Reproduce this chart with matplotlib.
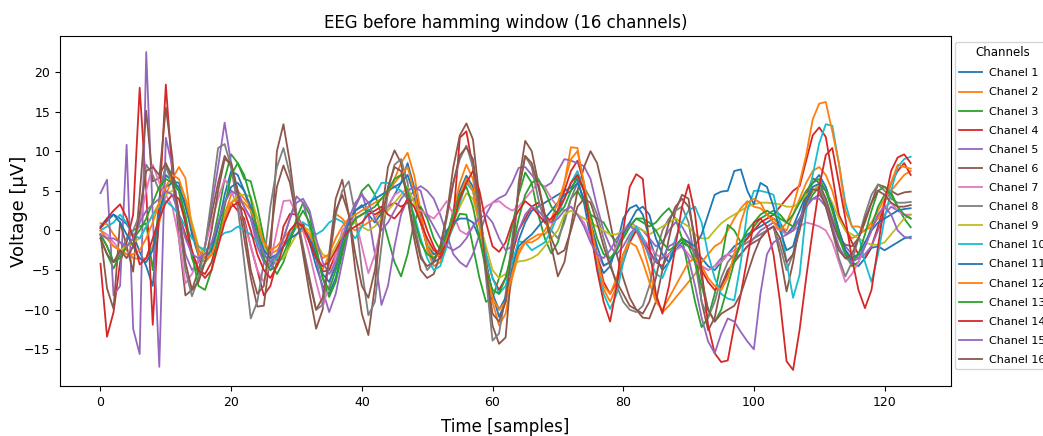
import numpy as np
import matplotlib
matplotlib.use('Agg')
import matplotlib.pyplot as plt

# EEG samples per channel (uV), 125 samples each
ch1 = [0.3, 1.2, 2.0, 1.5, 0.8, -0.5, -2.7, -4.5, -7.0, 1.5, 7.0, 6.2, 6.0, 3.5, -0.5, -3.2, -4.0, -3.0, 0.5, 4.5, 7.5, 7.0, 5.0, 2.5, -1.0,
       -3.8, -4.5, -3.2, -2.0, -1.0, 0.5, 1.0, -1.5, -4.5, -7.0, -8.0, -6.0, -2.5, 0.5, 2.5, 3.2, 2.0, 1.0, 2.2, 3.0, 4.5, 6.0, 8.5, 5.5, 2.0,
       -2.0, -4.0, -3.5, -1.0, 2.5, 5.0, 6.9, 5.5, 1.0, -4.0, -8.0, -10.9, -9.0, -5.0, -1.2, 1.0, 2.5, 3.0, 3.5, 4.0, 4.5, 5.0, 5.4, 6.5, 3.5,
       -1.0, -3.5, -5.4, -4.5, -2.0, 1.5, 2.8, 3.2, 2.0, -1.0, -3.5, -5.0, -4.0, -2.5, -1.5, -2.0, -2.5, -3.5, -4.5, -5.0, -4.0, -3.0, -2.0, -1.5, -0.5,
       0.0, 0.5, 1.0, 1.5, 1.0, -0.5, 0.5, 2.5, 4.5, 6.0, 7.0, 5.5, 3.0, 0.0, -2.5, -4.0, -4.5, -3.5, -2.2, -2.0, -2.5, -2.0, -1.5, -1.0, -0.8]
ch2 = [0.9, 0.8, -0.5, -1.5, -2.5, -3.5, -3.6, -3.5, -2.0, 1.0, 4.5, 6.5, 8.0, 6.6, 0.3, -3.0, -4.0, -3.0, -1.0, 2.0, 4.5, 5.0, 4.0, 3.0, 1.5,
       -1.5, -3.0, -2.5, -1.5, -1.0, -0.5, 0.0, -1.0, -3.0, -5.0, -3.0, 2.1, 1.5, 0.5, 0.0, 0.5, 1.0, 1.5, 2.5, 4.5, 6.5, 8.5, 9.8, 7.0, 2.5,
       -2.5, -4.5, -4.0, -1.5, 2.5, 6.0, 8.3, 6.5, 1.5, -4.0, -9.0, -12.0, -10.5, -6.0, -3.0, -1.5, -1.0, -0.5, -0.5, 0.5, 2.5, 6.0, 10.5, 10.4, 5.5,
       0.0, -4.5, -7.4, -9.0, -7.0, -3.0, -1.0, 0.0, -2.0, -5.0, -8.5, -10.3, -9.5, -8.5, -7.5, -6.5, -5.5, -4.0, -3.0, -2.0, -1.5, 0.0, 1.5, 2.8, 3.7,
       3.0, 2.8, 2.0, 1.5, 0.5, 0.0, 2.0, 4.0, 6.0, 7.5, 8.0, 7.0, 5.0, 2.0, 0.0, -1.0, -0.5, 0.0, 1.0, 2.5, 4.0, 5.0, 6.0, 7.0, 7.5]
ch3 = [-1.0, -3.0, -4.8, -3.0, -1.0, 0.0, 0.5, 0.9, -5.0, 4.0, 8.3, 7.0, 5.0, 1.0, -3.5, -5.5, -4.0, -2.0, 2.0, 6.5, 9.6, 8.5, 6.5, 6.2, 3.0,
       -1.0, -4.0, -5.5, -4.0, -1.5, 1.5, 3.5, 2.0, -2.0, -6.0, -8.4, -6.5, -3.0, 0.5, 3.0, 5.0, 5.8, 4.5, 2.0, -1.0, -4.0, -5.8, -3.0, 1.0, 3.0,
       1.5, -1.0, -2.5, -1.5, 0.5, 2.1, 2.0, -2.0, -6.0, -9.0, -8.5, -6.0, -3.0, 0.5, 4.5, 7.3, 6.0, 2.0, -1.0, -2.9, -1.5, 1.5, 4.0, 5.0, 3.5,
       2.0, 1.5, 1.0, -0.5, -1.5, -1.0, 0.5, 1.5, 1.0, 0.5, 1.0, 2.0, 2.8, 1.5, -1.0, -5.0, -9.0, -12.2, -11.0, -8.0, -4.0, 0.7, 0.0, -1.5, -1.0,
       0.5, 1.5, 2.0, 2.5, 2.0, 1.0, 0.5, 1.5, 3.0, 4.5, 5.5, 4.0, 1.5, -1.0, -3.0, -4.5, -4.0, -2.0, 0.5, 3.0, 4.5, 4.8, 3.0, 1.5, 0.4]
ch4 = [-4.2, -13.4, -10.3, -4.0, -1.5, 2.0, 18.0, 5.0, -11.9, 3.0, 18.4, 7.0, 2.0, -0.5, -3.0, -5.0, -5.5, -4.0, -1.0, 2.0, 3.5, 2.5, 1.5, -2.0, -5.0,
       -8.2, -7.0, -4.0, 0.5, 2.1, 2.0, 0.5, -1.5, -3.5, -5.2, -5.0, -3.0, -1.0, 0.5, 1.5, 2.0, 2.5, 2.0, 2.5, 3.0, 3.5, 3.0, 3.5, 4.0, 2.5,
       0.0, -2.0, -3.5, -2.0, 1.5, 11.7, 12.5, 7.9, 2.0, -3.0, -6.0, -7.5, -6.0, -3.0, 0.0, 1.5, 3.0, 3.5, 2.0, 1.0, 2.5, 5.0, 7.5, 8.8, 6.0,
       1.0, -3.0, -6.5, -8.0, -6.5, -4.0, -1.5, 0.0, -1.0, -2.5, -4.0, -4.5, -3.0, -2.0, -1.0, -1.5, -3.0, -5.0, -6.5, -7.5, -7.0, -5.5, -3.5, -2.0, -1.0,
       0.0, 1.0, 1.5, 2.0, 3.0, 4.0, 5.0, 5.6, 8.8, 12.0, 13.0, 11.8, 7.0, 2.0, 0.3, -1.5, -3.0, -3.5, -2.0, 0.5, 3.5, 6.0, 7.5, 8.5, 7.0]
ch5 = [4.7, 6.4, -8.2, -7.0, 10.8, -12.4, -15.6, 22.5, 2.0, -17.2, 11.7, 8.0, 2.0, -3.0, -5.0, -4.0, -2.0, 3.0, 8.0, 13.6, 8.5, 5.0, 3.0, 1.5, -2.0,
       -4.0, -5.0, -3.5, -1.0, 1.5, 4.3, 3.5, 0.5, -3.5, -7.5, -10.3, -8.0, -4.0, 0.0, 3.0, 4.7, 2.0, -3.0, -9.4, -7.0, -2.0, 2.0, 4.0, 5.0, 5.6,
       5.0, 4.0, 2.0, -0.5, -3.0, -4.0, -4.6, -3.0, -0.5, 2.0, 3.5, 4.1, 4.5, 6.0, 7.9, 8.0, 7.0, 6.0, 5.5, 6.0, 7.5, 9.0, 8.8, 8.5, 8.1,
       6.5, 3.0, 0.0, -2.0, -3.0, -2.0, -0.5, 0.5, 0.0, -1.0, -2.0, -1.5, 0.0, 1.0, 0.5, -1.0, -3.0, -4.5, -5.0, -4.5, -3.5, -3.0, -3.5, -3.0, -2.0,
       -1.0, 0.0, 0.5, 1.0, 0.5, -0.5, 0.0, 1.5, 3.0, 4.0, 4.5, 3.5, 1.5, -0.5, -2.0, -3.0, -3.5, -3.0, -2.0, 0.0, 2.0, 3.0, 2.5, 2.0, 1.5]
ch6 = [-0.5, -7.3, -9.9, 1.1, -2.0, -5.2, 4.5, 15.1, 6.2, 6.6, 15.5, 9.2, -1.0, -8.2, -7.5, -5.0, -2.0, 2.0, 6.0, 9.4, 8.0, 4.0, -1.0, -6.0, -9.6,
       -9.5, -3.0, 10.0, 13.4, 8.5, 2.0, -3.0, -8.0, -12.4, -10.0, -3.0, 4.0, 6.4, 2.0, -5.0, -10.5, -13.2, -7.0, 2.0, 8.0, 10.1, 8.5, 4.0, -1.0, -5.0,
       -6.0, -5.5, -3.0, 2.0, 8.0, 12.0, 13.5, 11.5, 4.0, -5.0, -12.0, -14.3, -13.5, -4.0, 6.0, 11.3, 10.0, 6.0, 2.0, -2.0, -5.8, -4.0, 0.5, 5.0, 8.0,
       10.0, 8.5, 5.0, 1.0, -3.0, -6.0, -8.5, -10.0, -11.0, -11.1, -9.0, -5.0, -1.0, 2.5, 4.5, 4.0, -2.0, -9.0, -12.6, -11.0, -7.0, -5.0, -4.0, -3.0, -2.0,
       -1.5, -1.0, 0.0, 0.5, -3.0, -7.7, -4.0, 1.0, 4.5, 6.6, 6.0, 4.0, 1.0, -1.0, -1.8, -2.0, -1.0, 1.0, 3.5, 5.8, 5.5, 5.0, 4.5, 4.8, 4.9]
ch7 = [0.0, -0.5, -1.5, -2.5, -3.0, -2.0, 1.0, 5.0, 8.3, 6.0, 4.5, 3.0, -1.0, -6.7, -5.5, -3.5, -2.0, 1.0, 4.0, 6.5, 5.0, 3.0, 1.0, -2.0, -5.0,
       -6.5, -4.0, 0.0, 3.7, 3.8, 2.0, 0.0, -3.0, -6.5, -9.6, -7.0, -3.0, 0.0, 1.0, 1.5, -2.0, -5.4, -3.0, 0.5, 3.0, 4.5, 5.0, 4.0, 3.0, 2.5,
       2.0, 1.5, 2.5, 3.7, 2.0, 0.0, -0.5, 0.5, 2.0, 3.0, 3.5, 3.7, 3.0, 2.5, 3.0, 4.0, 5.0, 6.0, 5.5, 4.0, 3.0, 2.5, 3.0, 2.0, 1.0,
       -1.0, -3.0, -4.5, -4.0, -2.0, 0.0, 1.0, 0.5, -1.0, -2.0, -3.0, -3.5, -3.0, -2.5, -2.0, -3.0, -4.0, -4.5, -5.0, -4.5, -4.0, -3.0, -2.5, -2.0, -1.5,
       -1.0, -0.5, 0.0, 0.5, 0.0, -0.5, 0.0, 0.5, 1.0, 0.8, 0.5, 0.0, -1.5, -4.0, -6.5, -5.5, -4.0, -2.0, 0.0, 2.0, 3.0, 3.5, 2.5, 2.0, 2.0]
ch8 = [-0.5, -2.0, -4.0, -3.0, -1.0, 0.0, 2.0, 8.3, 7.0, 5.0, 8.0, 6.0, 1.0, -5.0, -8.3, -6.0, -2.0, 4.0, 10.4, 10.9, 8.0, 3.0, -4.0, -11.1, -9.0,
       -4.0, 3.0, 8.0, 10.4, 7.0, 2.0, -2.0, -6.0, -10.0, -9.4, -4.0, 2.0, 5.0, 6.2, 2.0, -5.0, -10.7, -9.0, -2.0, 5.0, 8.3, 9.0, 6.0, 1.0, -3.0,
       -5.0, -4.0, -2.0, 1.5, 6.0, 9.0, 10.7, 8.0, 2.0, -6.0, -13.9, -13.0, -8.0, -1.0, 5.0, 9.4, 8.0, 4.0, 1.0, 0.0, -1.0, 1.0, 4.0, 6.0, 5.5,
       4.0, 2.0, -1.0, -4.0, -7.0, -9.0, -10.0, -10.3, -9.5, -7.0, -3.0, 0.0, 1.5, 2.5, 3.0, 1.0, -4.0, -9.0, -11.0, -9.0, -6.0, -4.0, -3.0, -2.0, -1.5,
       -1.0, -0.5, 0.0, 0.5, -2.0, -5.0, -3.0, 1.0, 3.5, 5.0, 5.5, 3.5, 0.0, -3.5, -5.8, -4.0, -1.0, 2.0, 4.5, 5.8, 5.0, 4.0, 3.5, 3.5, 3.6]
ch9 = [-0.5, -1.0, -2.0, -2.5, -2.0, -1.5, -1.0, 0.5, 2.0, 3.5, 4.5, 5.0, 5.5, 4.0, 1.0, -2.0, -3.0, -2.5, -0.5, 2.0, 3.5, 4.5, 4.5, 4.3, 1.5,
       -2.0, -3.5, -4.0, -3.5, -2.0, -0.5, 0.5, 0.0, -1.5, -3.0, -3.5, -2.0, -0.5, 0.5, 1.0, 0.5, 0.0, 0.5, 1.5, 2.5, 3.5, 4.5, 5.5, 3.5, 1.0,
       -1.5, -3.0, -3.0, -1.5, 1.0, 3.0, 4.7, 4.0, 1.0, -2.0, -5.0, -6.0, -5.5, -4.5, -3.9, -3.8, -3.5, -3.0, -2.0, -1.0, 0.0, 2.0, 2.5, 2.0, 1.5,
       1.0, 0.5, 0.0, -0.5, -0.5, 0.0, 0.5, 0.5, 0.0, -0.5, 0.0, 0.5, 1.0, 1.5, 1.0, 0.5, -0.5, -1.0, -1.0, 0.0, 0.9, 1.5, 2.0, 2.5, 3.0,
       3.3, 3.5, 3.5, 3.4, 3.3, 3.0, 3.0, 3.5, 4.5, 5.0, 5.8, 5.0, 3.5, 1.5, 0.0, -0.5, -1.0, -1.5, -1.8, -1.8, -1.5, -0.5, 0.5, 1.5, 2.0]
ch10 = [0.0, 0.5, 1.0, 2.0, 1.0, -0.5, -1.0, 0.5, 2.0, 3.0, 3.7, 3.0, 2.0, 0.5, -1.0, -2.0, -2.5, -2.0, -1.0, -0.3, -0.1, 0.5, 0.0, -0.5, -1.5,
        -3.0, -4.0, -3.5, -2.0, -0.5, 0.5, 1.0, 0.5, -0.5, 0.0, 1.0, 1.5, 1.1, 0.0, -1.0, 0.5, 3.0, 4.5, 6.0, 6.0, 5.5, 5.0, 4.0, 2.0, -1.0,
        -3.5, -5.0, -4.5, -2.0, 1.0, 3.5, 6.0, 5.0, 1.0, -3.0, -6.0, -8.0, -7.0, -4.0, -1.4, -1.5, -2.5, -2.0, -1.5, 0.0, 2.0, 4.0, 6.0, 7.5, 5.0,
        0.0, -4.5, -8.0, -9.9, -8.0, -4.0, -1.0, 0.5, -1.0, -3.5, -5.5, -6.0, -4.0, -1.0, 1.0, 2.5, 3.0, 1.0, -3.0, -6.0, -8.0, -8.6, -8.8, -4.0, 2.5,
        5.0, 5.0, 4.8, 4.5, 1.0, -4.0, -8.5, -5.6, 2.5, 7.0, 11.0, 13.4, 13.2, 8.5, 3.5, 0.5, -0.5, -4.0, -6.5, -3.0, 1.5, 5.0, 8.0, 9.0, 9.3]
ch11 = [0.5, 1.5, 2.0, 1.0, -0.5, -2.0, -3.5, -4.0, -2.5, 2.0, 5.5, 6.0, 5.5, 3.0, 0.0, -2.5, -3.5, -2.5, 0.5, 3.5, 5.5, 6.0, 5.0, 3.0, 0.0,
        -2.5, -3.5, -3.0, -2.0, -1.0, -0.5, 0.5, -1.0, -3.0, -5.5, -6.5, -4.5, -1.5, 1.0, 2.5, 3.0, 3.5, 4.0, 4.5, 5.0, 5.5, 6.0, 7.0, 4.5, 1.0,
        -2.0, -3.0, -2.5, 0.0, 1.0, 1.5, 1.5, 1.0, -1.0, -4.0, -8.0, -10.0, -8.5, -5.0, -2.0, -1.2, -0.5, 0.5, 1.5, 2.5, 3.5, 4.5, 5.0, 6.0, 4.0,
        1.0, -2.0, -4.4, -4.0, -2.5, -0.5, 1.0, 2.5, 3.0, 2.0, -1.0, -3.0, -4.0, -2.0, -1.0, -1.5, -2.0, -0.5, 2.0, 4.5, 4.9, 5.0, 7.5, 7.7, 5.0,
        3.3, 6.0, 5.5, 3.0, 0.0, -2.5, -2.0, 1.0, 4.0, 5.5, 5.9, 5.0, 3.0, 0.0, -2.5, -3.5, -3.0, -1.5, 0.0, 1.0, 1.5, 2.0, 2.5, 2.7, 2.8]
ch12 = [0.0, -1.0, -2.0, -2.5, -3.0, -3.0, -2.5, -1.0, 1.0, 3.5, 5.5, 7.0, 6.5, 4.0, 0.5, -2.5, -3.5, -3.0, -1.0, 1.5, 3.5, 4.0, 3.5, 2.5, 0.5,
        -1.5, -2.5, -2.0, -1.0, 0.0, 0.5, 0.5, -0.5, -2.0, -3.5, -3.0, -1.0, 0.5, 1.5, 2.0, 2.5, 3.0, 3.5, 4.0, 5.0, 6.0, 7.0, 8.0, 5.0, 1.0,
        -2.0, -3.5, -3.0, -1.0, 2.0, 4.5, 6.5, 5.0, 0.5, -4.5, -8.5, -10.0, -9.0, -5.5, -2.5, -1.5, -1.5, -1.0, 0.0, 1.5, 3.5, 6.0, 9.0, 10.0, 6.0,
        1.0, -3.5, -7.0, -8.0, -6.0, -3.0, -1.5, -2.0, -4.0, -6.5, -9.0, -10.0, -8.5, -7.0, -5.5, -4.0, -3.5, -4.5, -6.0, -7.0, -7.5, -6.0, -3.0, 1.0, 3.5,
        4.0, 3.5, 2.0, 1.0, 0.0, 1.0, 3.0, 6.0, 9.5, 14.0, 16.0, 16.2, 12.5, 8.5, 2.5, 0.5, 0.5, 0.0, 0.5, 1.5, 3.5, 6.0, 8.3, 8.0, 7.8]
ch13 = [-0.5, -2.0, -4.0, -3.5, -2.0, -1.0, 0.0, 1.5, 3.5, 5.5, 6.5, 6.0, 5.0, 2.0, -3.0, -7.0, -7.5, -5.0, -1.0, 3.0, 7.0, 8.5, 7.0, 4.0, 0.0,
        -3.5, -5.0, -4.5, -3.0, -1.0, 1.0, 2.5, 1.0, -2.5, -6.0, -7.5, -5.0, -2.0, 0.0, 1.5, 2.0, 2.5, 3.0, 4.0, 5.0, 6.5, 7.0, 5.0, 1.5, -1.5,
        -3.0, -3.5, -2.5, -0.5, 2.0, 4.5, 5.5, 3.0, -1.0, -5.0, -7.5, -8.0, -6.0, -2.5, 1.5, 4.5, 6.0, 6.5, 5.0, 3.0, 2.0, 3.0, 5.0, 7.0, 5.0,
        2.0, -1.0, -3.0, -3.5, -2.5, -1.0, 0.5, 1.5, 1.5, 1.0, 0.0, -1.5, -2.5, -2.0, -1.0, -2.0, -4.0, -7.0, -10.0, -11.5, -10.0, -7.0, -4.0, -1.5, 0.0,
        1.0, 2.0, 2.5, 2.0, 1.5, 1.0, 2.0, 3.5, 5.0, 6.0, 6.5, 5.0, 2.5, -0.5, -3.0, -4.0, -3.0, -0.5, 2.5, 5.0, 5.5, 4.5, 3.0, 2.0, 1.5]
ch14 = [0.3, 1.5, 2.5, 3.3, 1.6, -1.0, -4.3, -3.5, -1.0, 1.5, 3.5, 4.5, 4.0, 1.0, -2.5, -5.0, -6.0, -5.0, -2.0, 1.0, 3.0, 3.5, 2.5, 0.0, -3.0,
        -5.0, -6.0, -4.5, -2.0, 0.0, 1.0, 0.5, -1.5, -3.5, -4.5, -4.0, -2.5, -1.0, 0.0, 0.5, 1.0, 2.0, 2.5, 3.0, 2.0, 1.5, 2.5, 4.0, 3.0, 1.0,
        -1.0, -2.5, -3.0, -1.5, 1.0, 4.0, 6.0, 7.5, 5.0, 1.0, -2.0, -2.7, -1.5, 1.0, 2.5, 3.7, 3.0, 2.0, 1.0, 1.5, 2.5, 4.0, 6.0, 7.0, 5.0,
        0.0, -5.0, -9.0, -11.5, -7.0, 0.0, 5.5, 7.1, 6.5, -2.0, -8.0, -10.5, -7.0, -2.0, 3.0, 5.8, 2.0, -5.0, -12.0, -15.5, -16.6, -16.4, -12.0, -8.0, -3.5,
        1.0, 1.5, 0.5, -3.0, -9.0, -16.5, -17.6, -12.5, -6.0, 0.0, 5.5, 9.5, 10.4, 6.0, 1.5, -3.5, -7.5, -9.8, -7.5, -2.0, 3.5, 7.5, 9.2, 9.6, 8.5]
ch15 = [-0.5, -1.0, -1.0, -1.5, -2.0, -1.0, 1.0, 2.5, 3.3, 4.0, 5.0, 4.5, 2.0, -1.0, -3.0, -3.5, -3.0, -1.5, 1.0, 3.5, 5.0, 4.5, 3.0, 1.5, -1.0,
        -3.0, -4.0, -3.0, -1.0, 1.5, 3.5, 4.0, 2.5, -1.0, -4.0, -5.5, -4.0, -1.0, 1.5, 3.5, 4.5, 3.5, 1.5, 0.0, 1.0, 2.5, 4.0, 5.0, 5.5, 5.0,
        2.0, 0.5, -1.0, -2.0, -2.5, -2.0, -1.0, 0.5, 1.5, 2.0, 1.0, -1.0, -2.5, -2.0, 0.0, 2.0, 3.0, 2.5, 1.5, 1.0, 1.5, 2.5, 3.0, 2.0, 0.5,
        -1.5, -3.0, -3.5, -2.5, -1.0, 0.0, 0.5, 0.0, -1.5, -3.0, -4.0, -3.5, -2.0, -1.5, -2.0, -3.5, -7.0, -11.0, -14.0, -15.5, -13.0, -11.1, -11.5, -12.8, -14.0,
        -15.0, -8.0, -3.0, -1.5, -1.0, -0.5, 0.0, 1.5, 3.0, 4.0, 4.0, 3.0, 0.5, -2.0, -3.5, -4.0, -3.5, -2.0, 0.0, 2.0, 3.0, 2.0, 0.0, -0.8, -1.0]
ch16 = [-1.0, -3.0, -4.0, -2.5, -3.5, -2.0, 2.0, 7.5, 8.0, 7.0, 8.5, 6.5, 2.0, -4.0, -7.5, -6.5, -4.0, 0.0, 5.0, 9.0, 8.5, 5.0, 0.5, -5.0, -8.0,
        -7.0, -1.0, 5.5, 8.2, 6.0, 1.5, -2.5, -6.5, -10.0, -8.5, -3.5, 2.5, 4.5, 2.0, -3.0, -7.0, -8.5, -5.0, 1.0, 5.5, 8.0, 7.5, 4.0, 0.0, -3.5,
        -4.5, -4.0, -2.0, 2.0, 6.0, 9.5, 10.5, 9.0, 3.0, -5.0, -10.5, -11.5, -9.0, -2.0, 5.0, 9.4, 8.5, 5.5, 2.0, -1.0, -3.0, -2.5, 0.0, 3.0, 4.0,
        3.5, 1.0, -2.0, -4.5, -6.5, -8.0, -9.5, -10.0, -10.5, -9.0, -6.0, -2.0, 1.0, 3.0, 4.0, 3.0, -1.0, -6.0, -10.0, -11.5, -10.5, -10.0, -9.5, -8.0, -5.5,
        -3.0, -1.0, 0.0, 0.5, -1.0, -4.0, -3.0, 0.0, 3.5, 5.2, 5.0, 3.0, 0.0, -2.5, -3.5, -3.0, -1.0, 1.5, 3.5, 5.0, 4.5, 3.5, 3.0, 3.0, 3.2]

channels = [ch1, ch2, ch3, ch4, ch5, ch6, ch7, ch8,
            ch9, ch10, ch11, ch12, ch13, ch14, ch15, ch16]
labels = ['Chanel ' + str(i + 1) for i in range(16)]

fig = plt.figure(figsize=(10.43, 4.36), dpi=100)
ax = fig.add_axes([0.0575, 0.115, 0.8545, 0.802])

for data, lab in zip(channels, labels):
    ax.plot(np.arange(len(data)), data, label=lab, linewidth=1.3)

ax.set_title('EEG before hamming window (16 channels)', fontsize=12)
ax.set_xlabel('Time [samples]', fontsize=12, labelpad=7)
ax.set_ylabel('Voltage [µV]', fontsize=13, labelpad=-3)
ax.tick_params(labelsize=9)
ax.legend(title='Channels', loc='upper left', bbox_to_anchor=(0.998, 1.0),
          fontsize=8, title_fontsize=8.5, labelspacing=0.82,
          handlelength=2.0, handletextpad=0.7)

fig.savefig('out.png', dpi=100)
